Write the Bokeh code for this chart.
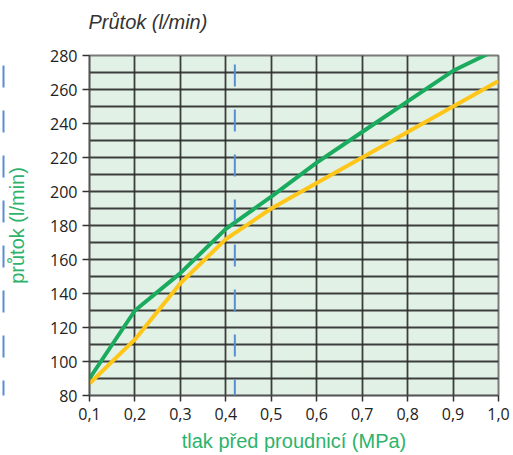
from bokeh.plotting import figure
from bokeh.models import Range1d, FixedTicker, CustomJSTickFormatter, LinearAxis, Span
from bokeh.embed import file_html
from bokeh.resources import INLINE

# ---- data ----
pressure = [0.1, 0.2, 0.3, 0.4, 0.5, 0.6, 0.7, 0.8, 0.9, 1.0]
flow_green = [90, 130, 152, 178, 197, 217, 235, 253, 271, 284]
flow_yellow = [87, 113, 146, 172, 190, 205, 220, 235, 250, 265]
x_ticks = [0.1, 0.2, 0.3, 0.4, 0.5, 0.6, 0.7, 0.8, 0.9, 1.0]
y_ticks = [80, 100, 120, 140, 160, 180, 200, 220, 240, 260, 280]
y_grid = [80, 90, 100, 110, 120, 130, 140, 150, 160, 170, 180, 190, 200,
          210, 220, 230, 240, 250, 260, 270, 280]

title_text = "Průtok (l/min)"
x_label = "tlak před proudnicí (MPa)"
y_label = "průtok (l/min)"

W, H = 513, 455
FL, FR, FT, FB = 89, 498, 55, 395   # frame edges in pixels

p = figure(width=W, height=H, output_backend="svg", toolbar_location=None,
           x_range=Range1d(0.1, 1.0), y_range=Range1d(80, 280),
           min_border_left=FL, min_border_right=W - FR,
           min_border_top=FT, min_border_bottom=H - FB)

p.border_fill_color = "white"
p.background_fill_color = "#e2f1e5"
p.outline_line_color = "#7a7a7a"
p.outline_line_width = 2

# trailing empty line lifts the title away from the plot frame
p.title.text = title_text + "\n "
p.title.align = "left"
p.title.offset = -1
p.title.standoff = 2
p.title.text_line_height = 1.0
p.title.text_font = "Liberation Sans"
p.title.text_font_style = "italic"
p.title.text_font_size = "20px"
p.title.text_color = "#333333"

GRID = "#2a2a2a"
p.xaxis.ticker = FixedTicker(ticks=x_ticks)
p.yaxis.ticker = FixedTicker(ticks=y_ticks)
p.xgrid.ticker = FixedTicker(ticks=x_ticks)
p.ygrid.ticker = FixedTicker(ticks=y_grid)
for g in (p.xgrid, p.ygrid):
    g.grid_line_color = GRID
    g.grid_line_width = 1.8
    g.grid_line_alpha = 0.9

p.xaxis.formatter = CustomJSTickFormatter(code="return tick.toFixed(1).replace('.', ',');")

for ax in (p.xaxis, p.yaxis):
    ax.axis_line_color = "#555555"
    ax.axis_line_width = 1.5
    ax.major_tick_line_color = "#333333"
    ax.major_tick_line_width = 1.5
    ax.major_tick_in = 0
    ax.minor_tick_line_color = None
    ax.major_label_text_font = "Open Sans"
    ax.major_label_text_font_size = "16px"
    ax.major_label_text_color = "#222222"
    ax.axis_label_text_font = "Liberation Sans"
    ax.axis_label_text_font_size = "20px"
    ax.axis_label_text_font_style = "normal"
    ax.axis_label_text_color = "#2db36b"
p.xaxis.major_tick_out = 6
p.yaxis.major_tick_out = 7
p.xaxis.major_label_standoff = 6
p.yaxis.major_label_standoff = 5
p.xaxis.axis_label = x_label
p.yaxis.axis_label = y_label
p.xaxis.axis_label_standoff = 7
p.yaxis.axis_label_standoff = 19

# blue dashed guide lines (scan marks in the original)
guide = LinearAxis(ticker=FixedTicker(ticks=[]), axis_line_color="#5b8dd4",
                   axis_line_width=2, axis_line_dash="22 23", axis_line_dash_offset=7,
                   major_tick_line_color=None, minor_tick_line_color=None,
                   major_label_text_font_size="0px")
p.add_layout(guide, "left")
p.add_layout(Span(location=0.4198, dimension="height", line_color="#5b8dd4",
                  line_width=2, line_dash="22 23", line_dash_offset=36))

p.line(pressure, flow_green, line_color="#1aab5f", line_width=4)
p.line(pressure, flow_yellow, line_color="#ffc61a", line_width=4)

open("out.html", "w").write(file_html(p, INLINE))
